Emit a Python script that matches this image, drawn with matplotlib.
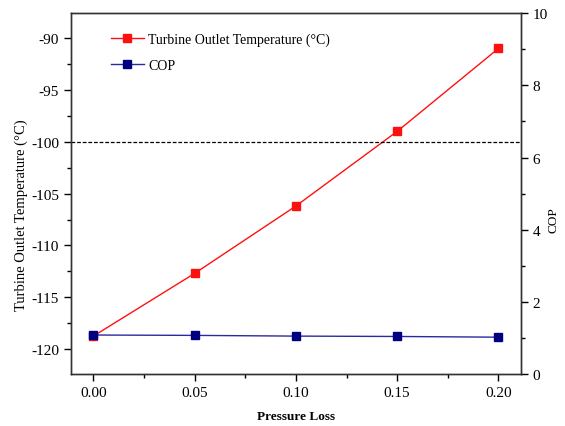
import matplotlib.pyplot as plt
from matplotlib.ticker import MultipleLocator

plt.rcParams['font.family'] = ['Liberation Serif', 'DejaVu Serif']
plt.rcParams['axes.unicode_minus'] = False

# data
pressureLoss = [0.00, 0.05, 0.10, 0.15, 0.20]
outletTemp = [-118.75, -112.7, -106.2, -99.0, -91.0]
cop = [1.08, 1.07, 1.05, 1.04, 1.02]
refTemp = -100

fig = plt.figure(figsize=(5.65, 4.27), dpi=100)
ax = fig.add_axes([0.1257, 0.1218, 0.796, 0.845])
ax2 = ax.twinx()

l1, = ax.plot(pressureLoss, outletTemp, color='#ff1010', lw=1, marker='s', ms=6,
              label='Turbine Outlet Temperature (°C)')
ax.axhline(refTemp, color='black', lw=0.9, ls=(0, (3, 1.5)))
l2, = ax2.plot(pressureLoss, cop, color='#2a2aa0', lw=1, marker='s', ms=6,
               mfc='#000080', mec='#000080', label='COP')

ax.set_xlim(-0.011, 0.211)
ax.set_ylim(-122.4, -87.6)
ax2.set_ylim(0, 10)

ax.xaxis.set_major_locator(MultipleLocator(0.05))
ax.xaxis.set_minor_locator(MultipleLocator(0.025))
ax.yaxis.set_major_locator(MultipleLocator(5))
ax.yaxis.set_minor_locator(MultipleLocator(2.5))
ax2.yaxis.set_major_locator(MultipleLocator(2))
ax2.yaxis.set_minor_locator(MultipleLocator(1))
ax.xaxis.set_major_formatter(plt.FuncFormatter(lambda v, p: '%.2f' % v))

for a in (ax, ax2):
    a.tick_params(which='major', length=5, width=1, labelsize=11, direction='out')
    a.tick_params(which='minor', length=3, width=1, direction='out')
    for s in a.spines.values():
        s.set_color('#333333')
        s.set_linewidth(1)

ax.set_xlabel('Pressure Loss', fontsize=9.5, fontweight='bold', labelpad=8)
ax.set_ylabel('Turbine Outlet Temperature (°C)', fontsize=10.5, labelpad=2)
ax.yaxis.set_label_coords(-0.095, 0.443)
ax2.set_ylabel('COP', fontsize=9.5, labelpad=4)
ax2.yaxis.set_label_coords(1.06, 0.43)

ax.legend(handles=[l1, l2], loc='upper left', bbox_to_anchor=(0.06, 0.98), frameon=False,
          fontsize=10, handlelength=2.4, handletextpad=0.3, labelspacing=0.9)

plt.savefig('out.png', dpi=100)
